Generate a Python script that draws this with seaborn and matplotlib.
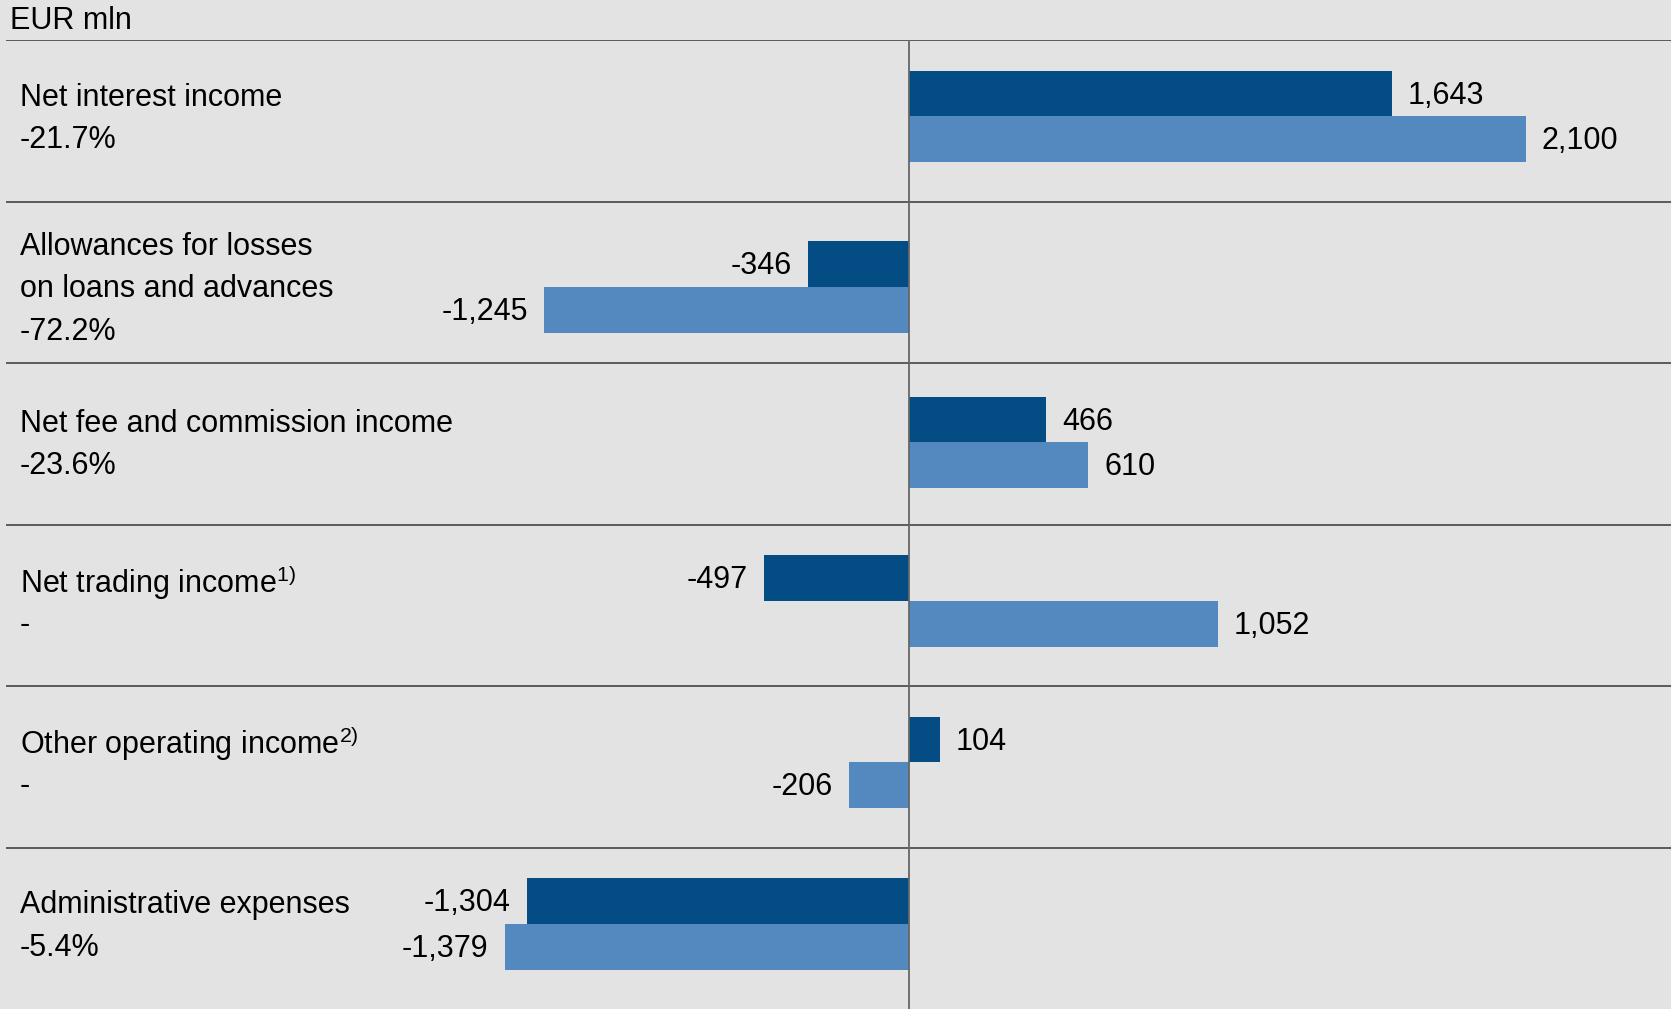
import matplotlib
matplotlib.use("Agg")
import matplotlib.pyplot as plt
import seaborn as sns
import pandas as pd

# ---- data ----
categories = [
    "Net interest income",
    "Allowances for losses\non loans and advances",
    "Net fee and commission income",
    "Net trading income$^{\\mathrm{1)}}$",
    "Other operating income$^{\\mathrm{2)}}$",
    "Administrative expenses",
]
changes = ["-21.7%", "-72.2%", "-23.6%", "-", "-", "-5.4%"]
current_values = [1643, -346, 466, -497, 104, -1304]
prior_values = [2100, -1245, 610, 1052, -206, -1379]
series_names = ["Current period", "Prior period"]

# ---- style / layout ----
sns.set_theme(style="white")
plt.rcParams["font.family"] = ["Liberation Sans", "DejaVu Sans"]
plt.rcParams["mathtext.fontset"] = "custom"
plt.rcParams["mathtext.rm"] = "Liberation Sans"
plt.rcParams["mathtext.it"] = "Liberation Sans"
bg = "#E3E3E3"
dark = "#034C84"
light = "#5389BF"
fs = 22
row_px = 161.5                         # pixels per category row
bar_nudge_px = [0, 9, 3, 0, 0, 0]      # small vertical nudges per row (px)
text_extra_px = 2.5

df = pd.DataFrame({
    "category": categories * 2,
    "value": current_values + prior_values,
    "series": [series_names[0]] * len(categories) + [series_names[1]] * len(categories),
})

W, H = 1671, 1009
fig = plt.figure(figsize=(W / 100, H / 100), dpi=100, facecolor=bg)
ax = fig.add_axes([6 / W, 0, 1 - 6 / W, (H - 40) / H])
ax.set_facecolor(bg)

sns.barplot(data=df, y="category", x="value", hue="series", orient="h",
            palette=[dark, light], width=0.565, gap=0, dodge=True,
            legend=False, ax=ax, saturation=1, linewidth=0)

n = len(categories)
for c in ax.containers:
    for i, p in enumerate(c.patches):
        p.set_y(p.get_y() + bar_nudge_px[i] / row_px)

for c in ax.containers:
    vals = c.datavalues
    anns = ax.bar_label(c, labels=[f"{v:,.0f}" for v in vals], padding=11.5,
                        fontsize=fs, color="black")
    for a in anns:
        x0, y0 = a.xyann
        a.xyann = (x0, y0 - 1.5)

off = 0.027
ax.set_ylim(n - 0.5 + off, -0.5 + off)
ax.set_xlim(-3078, 2595)

for i in range(n):
    ax.axhline(i - 0.5 + off, color="#505050", lw=1.3, zorder=1)
ax.axvline(0, color="#666666", lw=1.3, zorder=3)

# category labels
step = 0.263
for i, (cat, ch) in enumerate(zip(categories, changes)):
    lines = cat.split("\n") + [ch]
    k = len(lines)
    base = i + (bar_nudge_px[i] + text_extra_px) / row_px
    for j, ln in enumerate(lines):
        y = base + (j - (k - 1) / 2) * step
        ax.annotate(ln, xy=(0, y), xycoords=("axes fraction", "data"),
                    xytext=(10, 0), textcoords="offset points",
                    ha="left", va="center", fontsize=fs, color="black")

ax.set_xlabel("")
ax.set_ylabel("")
ax.set_xticks([])
ax.set_yticks([])
for s in ax.spines.values():
    s.set_visible(False)

fig.text(10 / W, 1 - 21 / H, "EUR mln", ha="left", va="center",
         fontsize=fs, color="black")

fig.savefig("out.png", dpi=100, facecolor=bg)
